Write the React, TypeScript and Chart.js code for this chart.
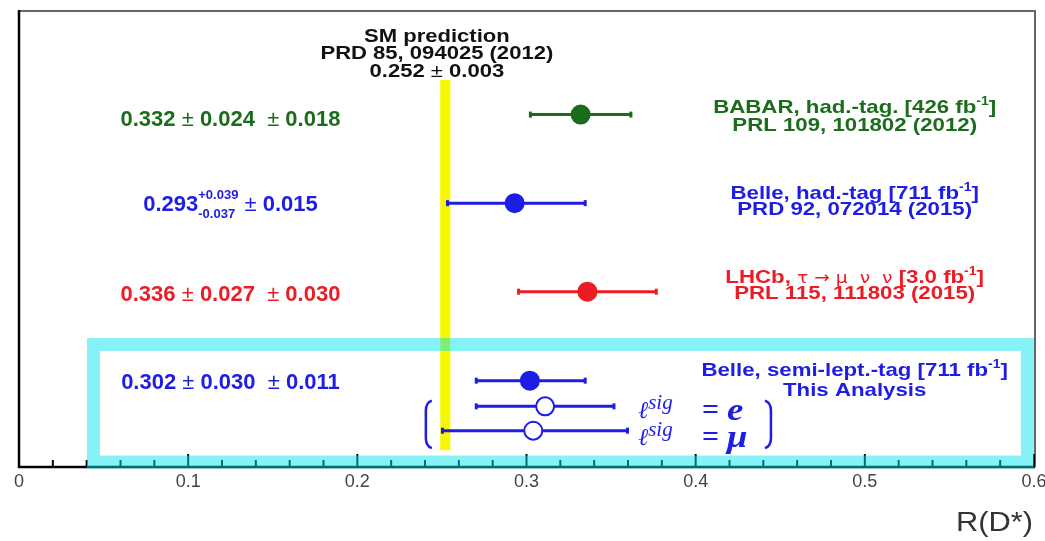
import React, { useEffect, useRef } from "react";
import { Chart, registerables } from "chart.js";

Chart.register(...registerables);

// ---- data ----
const MEASUREMENTS = ["BABAR had.-tag", "Belle had.-tag", "LHCb", "Belle semi-lept.-tag", "Belle semi-lept. (e)", "Belle semi-lept. (mu)"];
const CENTRAL = [0.332, 0.293, 0.336, 0.302, 0.311, 0.304];
const ERR_LOW = [0.302, 0.253, 0.295, 0.270, 0.270, 0.250];
const ERR_HIGH = [0.362, 0.335, 0.377, 0.335, 0.352, 0.360];
const ROW_Y = [3.98, 2.98, 1.98, 0.975, 0.685, 0.41];
const COLORS = ["#1b6d1b", "#1d1de6", "#ec1c24", "#1d1de6", "#1d1de6", "#1d1de6"];
const FILLED = [true, true, true, true, false, false];
const SM_VALUE = 0.252;
const SM_ERR = 0.003;
const X_MIN = 0;
const X_MAX = 0.6;
const MAJOR_TICKS = [0, 0.1, 0.2, 0.3, 0.4, 0.5, 0.6];
const TICK_LABELS = ["0", "0.1", "0.2", "0.3", "0.4", "0.5", "0.6"];
const MINOR_STEP = 0.02;

const SANS = '"Liberation Sans", Arial, Helvetica, sans-serif';
const SYM = '"DejaVu Sans", "Liberation Sans", sans-serif';
const SERIF = '"DejaVu Serif", "Liberation Serif", serif';

type Seg = {
  t?: string;
  size: number;
  weight?: string;
  style?: string;
  family?: string;
  dy?: number;
  sup?: string;
  sub?: string;
  supDy?: number;
  subDy?: number;
};

function segFont(s: Seg) {
  return `${s.style || "normal"} ${s.weight || "bold"} ${s.size}px ${s.family || SANS}`;
}

function segWidth(ctx: CanvasRenderingContext2D, s: Seg) {
  ctx.font = segFont(s);
  if (s.sup !== undefined) {
    return Math.max(ctx.measureText(s.sup).width, ctx.measureText(s.sub || "").width);
  }
  return ctx.measureText(s.t || "").width;
}

function drawRich(
  ctx: CanvasRenderingContext2D,
  segs: Seg[],
  x: number,
  y: number,
  align: "left" | "center" | "right",
  color: string,
  sx = 1
) {
  const widths = segs.map((s) => segWidth(ctx, s) * sx);
  const total = widths.reduce((a, b) => a + b, 0);
  let cx = align === "left" ? x : align === "center" ? x - total / 2 : x - total;
  ctx.save();
  ctx.fillStyle = color;
  ctx.textAlign = "left";
  ctx.textBaseline = "alphabetic";
  segs.forEach((s, i) => {
    ctx.save();
    ctx.translate(cx, y);
    ctx.scale(sx, 1);
    ctx.font = segFont(s);
    if (s.sup !== undefined) {
      ctx.fillText(s.sup, 0, s.supDy || 0);
      ctx.fillText(s.sub || "", 0, s.subDy || 0);
    } else {
      ctx.fillText(s.t || "", 0, s.dy || 0);
    }
    ctx.restore();
    cx += widths[i];
  });
  ctx.restore();
}

const RS = 19; // right label font size
const B = (t: string, size = RS): Seg => ({ t, size });
const N = (t: string, size = RS): Seg => ({ t, size, weight: "normal" });
const SYMB = (t: string, size = RS): Seg => ({ t, size, weight: "normal", family: SYM });
const SUP = (t: string, size = 12): Seg => ({ t, size, dy: -8 });

const overlayPlugin = {
  id: "rdOverlay",
  beforeDatasetsDraw(chart: any) {
    const { ctx } = chart;
    const xs = chart.scales.x;
    const ys = chart.scales.y;
    // SM band
    ctx.save();
    ctx.fillStyle = "#f7f700";
    const bx0 = xs.getPixelForValue(SM_VALUE - SM_ERR);
    const bx1 = xs.getPixelForValue(SM_VALUE + SM_ERR);
    const by0 = ys.getPixelForValue(4.37);
    const by1 = ys.getPixelForValue(0.19);
    ctx.fillRect(bx0, by0, bx1 - bx0, by1 - by0);
    ctx.restore();
    // error bars
    ctx.save();
    ctx.lineWidth = 3;
    CENTRAL.forEach((_, i) => {
      const y = ys.getPixelForValue(ROW_Y[i]);
      const x0 = xs.getPixelForValue(ERR_LOW[i]);
      const x1 = xs.getPixelForValue(ERR_HIGH[i]);
      ctx.strokeStyle = COLORS[i];
      ctx.beginPath();
      ctx.moveTo(x0, y);
      ctx.lineTo(x1, y);
      ctx.stroke();
      ctx.fillStyle = COLORS[i];
      ctx.fillRect(x0 - 1, y - 3, 3, 6);
      ctx.fillRect(x1 - 2, y - 3, 3, 6);
    });
    ctx.restore();
  },
  afterDatasetsDraw(chart: any) {
    const { ctx, chartArea: ca } = chart;
    const xs = chart.scales.x;
    const ys = chart.scales.y;
    const X = (v: number) => xs.getPixelForValue(v);
    const Y = (v: number) => ys.getPixelForValue(v);

    // frame
    ctx.save();
    ctx.strokeStyle = "#666";
    ctx.lineWidth = 2;
    ctx.beginPath();
    ctx.moveTo(ca.left, ca.top);
    ctx.lineTo(ca.right + 1, ca.top);
    ctx.lineTo(ca.right + 1, ca.bottom);
    ctx.stroke();
    ctx.strokeStyle = "#000";
    ctx.lineWidth = 2.5;
    ctx.beginPath();
    ctx.moveTo(ca.left, ca.top - 1);
    ctx.lineTo(ca.left, ca.bottom);
    ctx.lineTo(ca.right + 1, ca.bottom);
    ctx.stroke();
    // ticks
    ctx.lineWidth = 2;
    const nMinor = Math.round((X_MAX - X_MIN) / MINOR_STEP);
    for (let k = 0; k <= nMinor; k++) {
      const v = X_MIN + k * MINOR_STEP;
      const major = k % 5 === 0;
      const px = X(v);
      ctx.beginPath();
      ctx.moveTo(px, ca.bottom);
      ctx.lineTo(px, ca.bottom - (major ? 13 : 7));
      ctx.stroke();
    }
    // tick labels
    ctx.fillStyle = "#444";
    ctx.font = `normal 18px ${SANS}`;
    ctx.textAlign = "center";
    ctx.textBaseline = "alphabetic";
    MAJOR_TICKS.forEach((v, i) => {
      ctx.fillText(TICK_LABELS[i], X(v), ca.bottom + 20);
    });
    ctx.restore();
    // axis title
    drawRich(ctx, [{ t: "R(D*)", size: 28, weight: "normal" }], ca.right - 1, ca.bottom + 64, "right", "#333", 1.1);

    // highlight box (this analysis)
    ctx.save();
    ctx.strokeStyle = "rgba(0, 228, 240, 0.48)";
    ctx.lineWidth = 13;
    const rx0 = X(0.044);
    const rx1 = X(0.5961);
    const ry0 = Y(1.383);
    const ry1 = Y(0.056);
    ctx.strokeRect(rx0, ry0, rx1 - rx0, ry1 - ry0);
    ctx.restore();

    // SM prediction text
    const black = "#111";
    const SX = 1.16;
    drawRich(ctx, [B("SM prediction")], X(0.247), Y(4.804), "center", black, SX);
    drawRich(ctx, [B("PRD 85, 094025 (2012)")], X(0.247), Y(4.613), "center", black, SX);
    drawRich(ctx, [B("0.252 "), N("±"), B(" 0.003")], X(0.247), Y(4.4), "center", black, SX);

    // left value labels
    const L = 22;
    drawRich(ctx, [B("0.332 ", L), N("±", L), B(" 0.024  ", L), N("±", L), B(" 0.018", L)], X(0.125), Y(3.851), "center", COLORS[0]);
    drawRich(
      ctx,
      [B("0.293", L), { sup: "+0.039", sub: "-0.037", size: 13, supDy: -12, subDy: 7 }, B(" ", L), N("±", L), B(" 0.015", L)],
      X(0.125),
      Y(2.889),
      "center",
      COLORS[1]
    );
    drawRich(ctx, [B("0.336 ", L), N("±", L), B(" 0.027  ", L), N("±", L), B(" 0.030", L)], X(0.125), Y(1.87), "center", COLORS[2]);
    drawRich(ctx, [B("0.302 ", L), N("±", L), B(" 0.030  ", L), N("±", L), B(" 0.011", L)], X(0.125), Y(0.884), "center", COLORS[3]);

    // right experiment labels
    const RX = X(0.494);
    const RSX = 1.17;
    drawRich(ctx, [B("BABAR, had.-tag. [426 fb"), SUP("-1"), B("]")], RX, Y(3.997), "center", COLORS[0], RSX);
    drawRich(ctx, [B("PRL 109, 101802 (2012)")], RX, Y(3.795), "center", COLORS[0], RSX);
    drawRich(ctx, [B("Belle, had.-tag [711 fb"), SUP("-1"), B("]")], RX, Y(3.023), "center", COLORS[1], RSX);
    drawRich(ctx, [B("PRD 92, 072014 (2015)")], RX, Y(2.844), "center", COLORS[1], RSX);
    drawRich(
      ctx,
      [B("LHCb, "), SYMB("τ → μ  ν  ν", 16), B(" [3.0 fb"), SUP("-1"), B("]")],
      RX,
      Y(2.082),
      "center",
      COLORS[2],
      RSX
    );
    drawRich(ctx, [B("PRL 115, 111803 (2015)")], RX, Y(1.892), "center", COLORS[2], RSX);
    drawRich(ctx, [B("Belle, semi-lept.-tag [711 fb"), SUP("-1"), B("]")], RX, Y(1.03), "center", COLORS[3], RSX);
    drawRich(ctx, [B("This Analysis")], RX, Y(0.806), "center", COLORS[3], RSX);

    // lepton labels
    const blue = COLORS[4];
    const lines: [string, number][] = [["e", 0.526], ["μ", 0.224]];
    lines.forEach(([lep, yv]) => {
      const by = Y(yv);
      drawRich(
        ctx,
        [
          { t: "ℓ", size: 24, style: "italic", weight: "normal", family: SERIF, dy: -2 },
          { t: "sig", size: 21, style: "italic", weight: "normal", family: '"Liberation Serif", serif', dy: -11 },
        ],
        X(0.366),
        by,
        "left",
        blue
      );
      drawRich(ctx, [{ t: "=", size: 30, weight: "bold", family: '"Liberation Serif", serif' }], X(0.4037), by - 1, "left", blue);
      drawRich(ctx, [{ t: lep, size: 32, style: "italic", weight: "bold", family: '"Liberation Serif", serif' }], X(0.4185), by, "left", blue, 1.15);
    });

    // brackets
    ctx.save();
    ctx.strokeStyle = blue;
    ctx.lineWidth = 2.5;
    const t0 = Y(0.75);
    const t1 = Y(0.213);
    const lx = X(0.2405);
    ctx.beginPath();
    ctx.moveTo(lx + 6, t0);
    ctx.quadraticCurveTo(lx, t0 + 2, lx, t0 + 10);
    ctx.lineTo(lx, t1 - 10);
    ctx.quadraticCurveTo(lx, t1 - 2, lx + 6, t1);
    ctx.stroke();
    const rx = X(0.4445);
    ctx.beginPath();
    ctx.moveTo(rx - 6, t0);
    ctx.quadraticCurveTo(rx, t0 + 2, rx, t0 + 10);
    ctx.lineTo(rx, t1 - 10);
    ctx.quadraticCurveTo(rx, t1 - 2, rx - 6, t1);
    ctx.stroke();
    ctx.restore();
  },
};

export default function App() {
  const ref = useRef<HTMLCanvasElement>(null);
  useEffect(() => {
    if (!ref.current) return;
    const chart = new Chart(ref.current, {
      type: "scatter",
      data: {
        labels: MEASUREMENTS,
        datasets: [
          {
            label: "R(D*)",
            data: CENTRAL.map((x, i) => ({ x, y: ROW_Y[i] })),
            pointRadius: 9,
            pointBorderWidth: 2,
            pointBackgroundColor: CENTRAL.map((_, i) => (FILLED[i] ? COLORS[i] : "#ffffff")),
            pointBorderColor: COLORS,
            showLine: false,
          },
        ],
      },
      options: {
        animation: false,
        responsive: true,
        maintainAspectRatio: false,
        events: [],
        layout: { padding: { left: 19, right: 11, top: 7, bottom: 74 } },
        scales: {
          x: { type: "linear", min: X_MIN, max: X_MAX, display: false },
          y: { type: "linear", min: 0, max: 5.15, display: false },
        },
        plugins: { legend: { display: false }, tooltip: { enabled: false } },
      },
      plugins: [overlayPlugin],
    } as any);
    return () => chart.destroy();
  }, []);
  return (
    <div style={{ position: "fixed", left: 0, top: 0, width: 1045, height: 541, background: "#fff" }}>
      <canvas ref={ref} />
    </div>
  );
}
